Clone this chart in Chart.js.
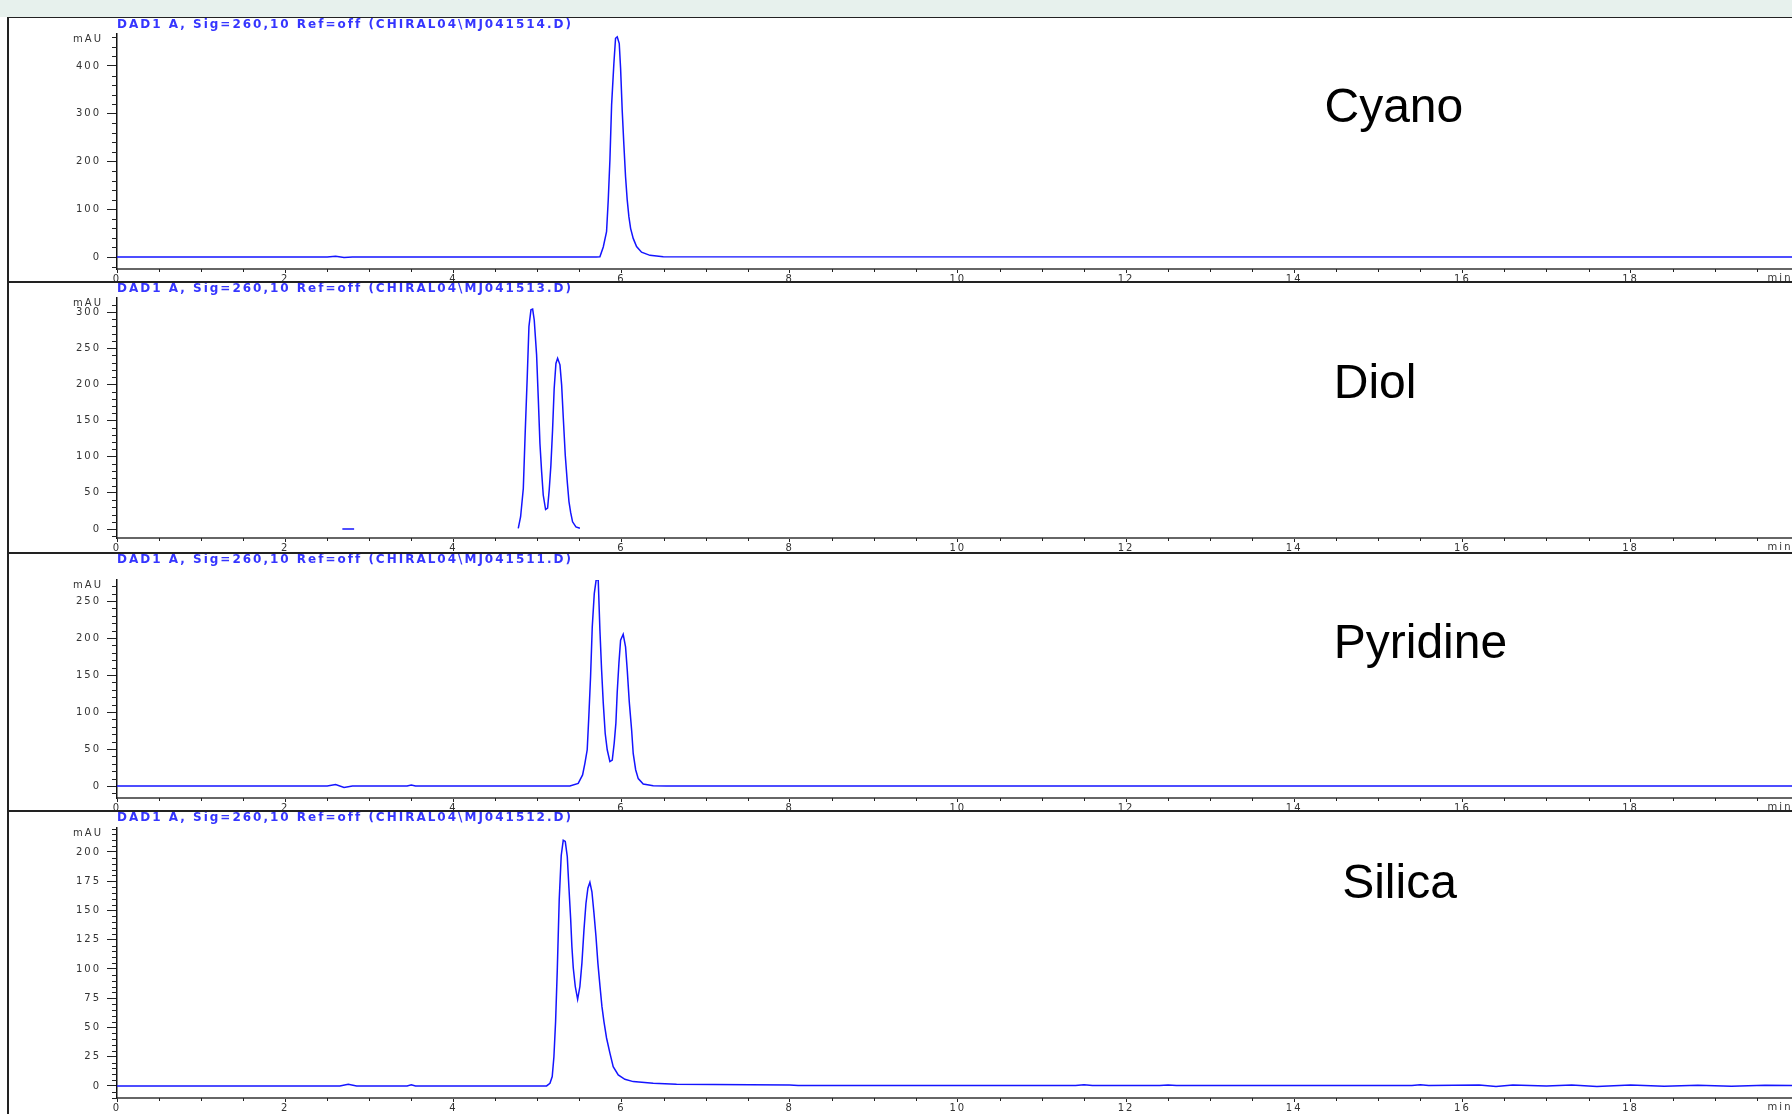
<!DOCTYPE html>
<html>
<head>
<meta charset="utf-8">
<title>Chromatograms</title>
<script src="https://cdn.jsdelivr.net/npm/chart.js@4.4.1/dist/chart.umd.min.js"></script>
<style>
    body { margin: 0; width: 1792px; height: 1114px; overflow: hidden; background: #fff; position: relative; }
    #band { position: absolute; left: 0; top: 0; width: 1792px; height: 17px; background: #e7f1ed; }
    .panel { position: absolute; left: 10px; }
    .rule { position: absolute; left: 7px; width: 1785px; height: 2px; background: #222; z-index: 2; }
    #leftRule { position: absolute; left: 7px; top: 17px; width: 2px; height: 1097px; background: #222; z-index: 2; }
</style>
</head>
<body>
<div id="band"></div>
<canvas id="cyanoChart" class="panel" width="1782" height="264" style="top:18px"></canvas>
<canvas id="diolChart" class="panel" width="1782" height="271" style="top:282px"></canvas>
<canvas id="pyridineChart" class="panel" width="1782" height="258" style="top:553px"></canvas>
<canvas id="silicaChart" class="panel" width="1782" height="303" style="top:811px"></canvas>
<div class="rule" style="top:17px;height:1px"></div>
<div class="rule" style="top:281px"></div>
<div class="rule" style="top:552px"></div>
<div class="rule" style="top:810px"></div>
<div id="leftRule"></div>
<script>
// --- Data (time in min, signal in mAU) ---

const cyanoTime = [0, 2.5, 2.6, 2.7, 2.8, 5.70, 5.743, 5.783, 5.822, 5.842, 5.862, 5.882, 5.909, 5.929, 5.949, 5.973, 5.989, 6.008, 6.028, 6.048, 6.068, 6.088, 6.108, 6.139, 6.179, 6.238, 6.338, 6.496, 20];
const cyanoSignal = [0, 0, 1.5, -1, 0, 0, 0.5, 21, 53, 119, 203, 318, 405, 458, 461, 447, 395, 308, 235, 168, 119, 84, 60, 39, 22, 10, 3.5, 0.5, 0];

// the Diol trace only shows up around the peaks (null = gap)
const diolTime = [2.68, 2.82, 3.5, 4.772, 4.80, 4.832, 4.855, 4.879, 4.899, 4.923, 4.943, 4.962, 4.99, 5.01, 5.03, 5.05, 5.069, 5.097, 5.121, 5.14, 5.16, 5.18, 5.199, 5.22, 5.24, 5.268, 5.288, 5.307, 5.331, 5.355, 5.375, 5.395, 5.418, 5.458, 5.505];
const diolSignal = [0, 0, null, 1, 17, 56, 135, 211, 280, 303, 304, 289, 241, 181, 118, 79, 47, 27, 29, 54, 88, 137, 194, 229, 236, 227, 199, 155, 102, 65, 38, 23, 10, 3, 1];

const pyridineTime = [0, 2.5, 2.6, 2.7, 2.8, 3.45, 3.5, 3.55, 5.386, 5.485, 5.537, 5.565, 5.592, 5.612, 5.632, 5.652, 5.676, 5.699, 5.723, 5.743, 5.763, 5.783, 5.806, 5.83, 5.862, 5.89, 5.913, 5.933, 5.949, 5.969, 5.989, 6.02, 6.048, 6.068, 6.092, 6.12, 6.139, 6.168, 6.199, 6.258, 6.377, 6.535, 20];
const pyridineSignal = [0, 0, 2, -2, 0, 0, 1.5, 0, 0, 3.6, 15, 31, 49, 96, 148, 215, 260, 279, 278, 211, 157, 112, 71, 49, 33, 35, 58, 85, 127, 166, 197, 205, 188, 157, 114, 76, 44, 22, 10, 2.7, 0.5, 0, 0];

const silicaTime = [0, 2.65, 2.75, 2.85, 3.45, 3.5, 3.55, 5.109, 5.149, 5.176, 5.196, 5.216, 5.236, 5.259, 5.283, 5.307, 5.331, 5.355, 5.375, 5.395, 5.41, 5.426, 5.45, 5.478, 5.505, 5.529, 5.553, 5.577, 5.6, 5.624, 5.648, 5.672, 5.696, 5.719, 5.743, 5.767, 5.791, 5.822, 5.862, 5.901, 5.961, 6.04, 6.139, 6.377, 6.654, 7.53, 8.0, 8.1, 11.4, 11.5, 11.6, 12.4, 12.5, 12.6, 15.4, 15.5, 15.6, 16.2, 16.4, 16.6, 17.0, 17.3, 17.6, 18.0, 18.4, 18.8, 19.2, 19.6, 20];
const silicaSignal = [0, 0, 1.5, 0, 0, 1, 0, 0, 2.3, 8, 25, 55, 99, 159, 197, 210, 209, 196, 169, 143, 119, 101, 85, 74, 85, 105, 133, 156, 169, 174, 166, 148, 128, 105, 86, 68, 55, 41, 28, 16.5, 9.4, 5.7, 3.7, 2.3, 1.5, 1, 0.8, 0.3, 0.3, 1, 0.3, 0.3, 0.8, 0.3, 0.3, 1, 0.3, 0.8, -0.5, 0.8, 0, 0.8, -0.5, 0.8, -0.3, 0.6, -0.3, 0.5, 0.3];

const columnNames = ['Cyano', 'Diol', 'Pyridine', 'Silica'];
const signalTitles = [
    'DAD1 A, Sig=260,10 Ref=off (CHIRAL04\\MJ041514.D)',
    'DAD1 A, Sig=260,10 Ref=off (CHIRAL04\\MJ041513.D)',
    'DAD1 A, Sig=260,10 Ref=off (CHIRAL04\\MJ041511.D)',
    'DAD1 A, Sig=260,10 Ref=off (CHIRAL04\\MJ041512.D)'
];
const yUnit = 'mAU';
const xUnit = 'min';

// --- Panel layout (axis ranges and spacing in each canvas) ---
const panels = [
    { id: 'cyanoChart', time: cyanoTime, signal: cyanoSignal, yMin: -25.1, yMax: 467, step: 100, minor: 20, titleGap: 3, axisHeight: 13, nameAt: [14.36, 310] },
    { id: 'diolChart', time: diolTime, signal: diolSignal, yMin: -12.4, yMax: 319.4, step: 50, minor: 10, titleGap: 3, axisHeight: 15, nameAt: [14.47, 200] },
    { id: 'pyridineChart', time: pyridineTime, signal: pyridineSignal, yMin: -16.2, yMax: 278.4, step: 50, minor: 10, titleGap: 14, axisHeight: 13, nameAt: [14.47, 191] },
    { id: 'silicaChart', time: silicaTime, signal: silicaSignal, yMin: -10.3, yMax: 220.5, step: 25, minor: 5, titleGap: 4, axisHeight: 16, nameAt: [14.57, 172] }
];

Chart.defaults.font.family = '"DejaVu Sans", sans-serif';
Chart.defaults.font.size = 10;
Chart.defaults.color = '#333';

// Minor ticks, unit labels and the big column name for each panel.
const traceDecor = {
    id: 'traceDecor',
    beforeDraw(chart) {
        // the instrument printout uses wide lettering
        chart.ctx.letterSpacing = '2px';
    },
    afterDraw(chart, args, opts) {
        const ctx = chart.ctx;
        const xs = chart.scales.x;
        const ys = chart.scales.y;
        const area = chart.chartArea;
        ctx.save();
        ctx.strokeStyle = '#222';
        ctx.lineWidth = 1;
        for (let v = Math.ceil(ys.min / opts.minor) * opts.minor; v <= ys.max; v += opts.minor) {
            const r = v / opts.step;
            if (Math.abs(r - Math.round(r)) < 1e-6) continue;
            const py = Math.round(ys.getPixelForValue(v)) + 0.5;
            ctx.beginPath();
            ctx.moveTo(area.left - 5, py);
            ctx.lineTo(area.left, py);
            ctx.stroke();
        }
        for (let t = 0.5; t <= xs.max; t += 0.5) {
            if (t % 2 === 0) continue;
            const px = Math.round(xs.getPixelForValue(t)) + 0.5;
            ctx.beginPath();
            ctx.moveTo(px, area.bottom);
            ctx.lineTo(px, area.bottom + 3);
            ctx.stroke();
        }
        ctx.fillStyle = '#333';
        ctx.font = '10px "DejaVu Sans"';
        ctx.textBaseline = 'middle';
        ctx.textAlign = 'right';
        ctx.fillText(yUnit, area.left - 14, area.top + 5);
        ctx.textAlign = 'left';
        ctx.fillText(xUnit, xs.getPixelForValue(19.63), area.bottom + 9);

        ctx.letterSpacing = '0px';
        ctx.fillStyle = '#000';
        ctx.font = '48px "Liberation Sans", Arial, sans-serif';
        ctx.fillText(opts.name, xs.getPixelForValue(opts.nameAt[0]), ys.getPixelForValue(opts.nameAt[1]));
        ctx.restore();
        ctx.letterSpacing = '0px';
    }
};

panels.forEach((p, i) => {
    const ctx = document.getElementById(p.id).getContext('2d');
    new Chart(ctx, {
        type: 'line',
        data: {
            datasets: [{
                label: columnNames[i],
                data: p.time.map((t, k) => ({ x: t, y: p.signal[k] })),
                borderColor: '#1414ff',
                borderWidth: 1.5,
                pointRadius: 0,
                tension: 0,
                spanGaps: false
            }]
        },
        options: {
            responsive: false,
            animation: false,
            layout: { padding: 0 },
            scales: {
                x: {
                    type: 'linear',
                    min: 0,
                    max: 19.92,
                    afterFit: (scale) => { scale.height = p.axisHeight; },
                    border: { display: true, color: '#666', width: 2 },
                    grid: { drawOnChartArea: false, drawTicks: true, tickLength: 4, tickColor: '#222' },
                    ticks: { stepSize: 2, includeBounds: false, autoSkip: false, maxRotation: 0, padding: 0, color: '#333' }
                },
                y: {
                    min: p.yMin,
                    max: p.yMax,
                    afterFit: (scale) => { scale.width = 107; },
                    // labelled ticks only on whole steps, never at the axis ends
                    afterBuildTicks: (scale) => {
                        const ticks = [];
                        for (let v = Math.ceil(scale.min / p.step) * p.step; v <= scale.max; v += p.step) {
                            ticks.push({ value: v });
                        }
                        scale.ticks = ticks;
                    },
                    border: { display: true, color: '#111', width: 1.5 },
                    grid: { drawOnChartArea: false, drawTicks: true, tickLength: 10, tickColor: '#222' },
                    ticks: { padding: 6, color: '#333' }
                }
            },
            plugins: {
                legend: { display: false },
                tooltip: { enabled: false },
                title: {
                    display: true,
                    text: signalTitles[i],
                    align: 'start',
                    fullSize: false,
                    color: '#3535ff',
                    font: { size: 12, lineHeight: 1 },
                    padding: { top: 1, bottom: p.titleGap }
                },
                traceDecor: { name: columnNames[i], nameAt: p.nameAt, step: p.step, minor: p.minor }
            }
        },
        plugins: [traceDecor]
    });
});
</script>
</body>
</html>
